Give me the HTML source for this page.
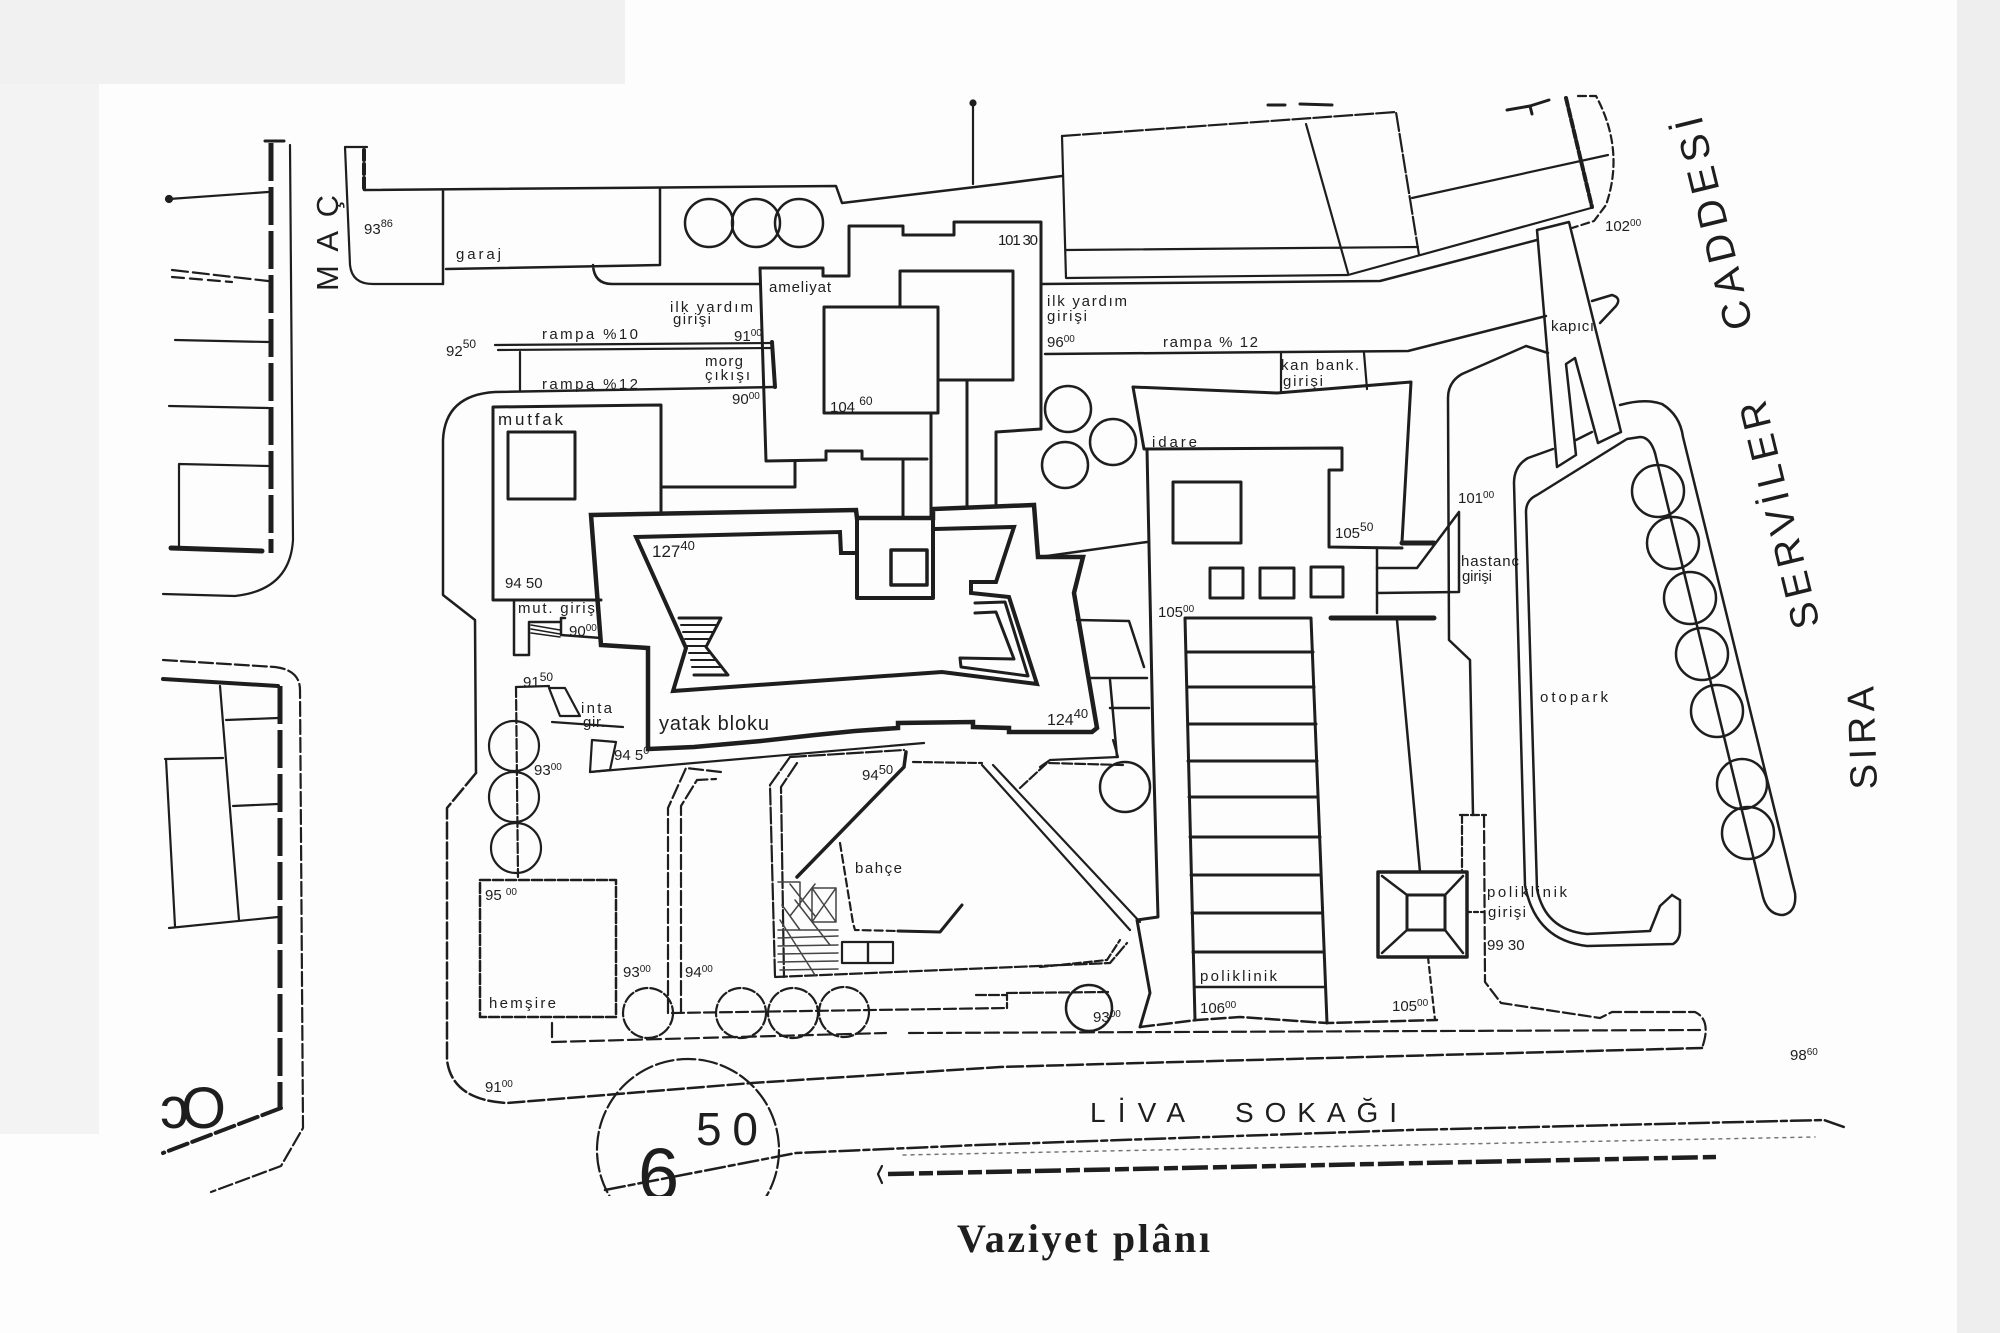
<!DOCTYPE html>
<html><head><meta charset="utf-8"><style>
html,body{margin:0;padding:0;background:#fff;}
svg{display:block}
text{font-family:"Liberation Sans",sans-serif;fill:#1e1e1e;stroke:none}
</style></head><body>
<svg width="2000" height="1333" viewBox="0 0 2000 1333" xmlns="http://www.w3.org/2000/svg">
<defs><clipPath id="cc"><rect x="0" y="0" width="2000" height="1196"/></clipPath></defs>
<rect width="2000" height="1333" fill="#fdfdfd"/>
<rect x="0" y="0" width="625" height="84" fill="#f1f1f1"/>
<rect x="0" y="84" width="99" height="1050" fill="#f3f3f3"/>
<rect x="1957" y="0" width="43" height="1333" fill="#eeeeee"/>

<g fill="none" stroke="#1e1e1e" stroke-width="2.2" stroke-linejoin="round" stroke-linecap="round">
<!-- left street MAC -->
<path d="M290,145 L293,540 Q290,590 235,596 L163,594"/>
<path d="M169,199 L268,192"/>
<path d="M172,270 L268,281" stroke-dasharray="16 5"/>
<path d="M172,277 L232,282" stroke-dasharray="12 6"/>
<path d="M175,340 L268,342 M169,406 L268,408 M179,464 L268,466 M179,464 L179,549"/>
<path d="M163,660 L275,667 Q300,670 300,690 L303,1128 L281,1166 L211,1192" stroke-dasharray="14 4"/>
<path d="M220,686 L239,920 M226,720 L278,718 M165,759 L223,758 M233,806 L278,804 M169,928 L278,917 M166,759 L175,926"/>
<path d="M271,143 L271,553" stroke-width="5" stroke-dasharray="38 6" stroke-linecap="butt"/>
<path d="M265,141 L284,141" stroke-width="3"/>
<path d="M171,548 L262,551" stroke-width="5"/>
<path d="M163,679 L278,686" stroke-width="4"/>
<path d="M280,686 L280,1108" stroke-width="5" stroke-dasharray="38 6" stroke-linecap="butt"/>
<path d="M281,1108 L163,1153" stroke-width="4" stroke-dasharray="20 5"/>
<circle cx="169" cy="199" r="3" fill="#1e1e1e"/>

<!-- garaj -->
<path d="M345,147 L367,147 M345,147 L350,265 Q352,284 373,284 L443,284"/>
<path d="M364,150 L364,190" stroke-width="4" stroke-dasharray="10 4"/>
<path d="M364,190 L836,186 L842,203 L1000,184 L1062,176" stroke-width="2.5"/>
<path d="M443,190 L443,284 M446,269 L660,265 L660,188 M593,265 Q594,284 612,284 L760,284" stroke-width="2.5"/>
<circle cx="709" cy="223" r="24" stroke-width="2.5"/><circle cx="756" cy="223" r="24" stroke-width="2.5"/><circle cx="799" cy="223" r="24" stroke-width="2.5"/>
<path d="M973,103 L973,184"/><circle cx="973" cy="103" r="2.5" fill="#1e1e1e"/>

<!-- ameliyat -->
<path d="M760,268 L823,268 L823,276 L849,276 L849,226 L903,226 L903,235 L954,235 L954,222 L1041,222 L1041,429 L996,432 L996,507" stroke-width="3"/>
<path d="M760,268 L766,461 L826,460 L826,451 L862,451 L862,459 L927,459" stroke-width="3"/>
<rect x="824" y="307" width="114" height="106" stroke-width="3"/>
<path d="M900,307 L900,271 L1013,271 L1013,380 L938,380" stroke-width="3"/>
<path d="M903,461 L903,518 M931,413 L931,518 M967,380 L967,508 M661,487 L795,487 L795,462" stroke-width="3"/>

<!-- ramps -->
<path d="M495,345 L772,343 M498,350 L772,348 M520,352 L520,391"/>
<path d="M772,342 L775,387" stroke-width="4"/>
<path d="M775,387 L495,392 Q445,395 443,440 L443,595 L475,620 L476,773" stroke-width="2.5"/>
<path d="M476,773 L447,808 L447,1060 Q452,1100 507,1103 L752,1083 L1000,1067 L1140,1063 L1702,1048" stroke-dasharray="16 4" stroke-width="2.5"/>

<!-- mutfak -->
<path d="M661,512 L661,405 L493,407 L493,600 L601,600" stroke-width="3"/>
<rect x="508" y="432" width="67" height="67" stroke-width="3"/>
<path d="M514,600 L514,655 L529,655 L529,622 L560,622" stroke-width="2.5"/>
<path d="M531,625 L560,630 M531,629 L560,634 M531,633 L560,637" stroke-width="1.5"/>
<path d="M565,618 L561,618 L561,635 L601,638" stroke-width="2.5"/>

<!-- main building (yatak bloku) -->
<path d="M591,515 L856,510 L857,518 L933,518 L933,509 L1034,505 L1038,557 L1083,557 L1074,593 L1097,728 L1092,732 L1009,732 L1009,728 L973,727 L973,722 L898,723 L898,728 L855,731 L815,735 L761,741 L694,747 L648,749 L648,648 L601,645 Z" stroke-width="4.5" stroke-linejoin="miter"/>
<path d="M857,518 L857,598 L933,598 L933,518" stroke-width="4"/>
<rect x="891" y="550" width="36" height="35" stroke-width="3.5"/>
<path d="M857,553 L841,553 L840,532 L636,537 L686,648 L673,691 L942,672 L1037,684 L1009,597 L971,593 L971,582 L996,582 L1014,527 L935,529" stroke-width="4" stroke-linejoin="miter"/>
<path d="M975,603 L1005,602 L1028,676 L961,667 L960,658 L1014,659 L996,612 L975,613" stroke-width="3"/>
<path d="M679,618 L721,618 L706,647 L728,675 L694,675" stroke-width="3"/>
<path d="M681,625 L717,625 M683,632 L714,632 M685,639 L710,639 M687,646 L706,646 M689,653 L711,653 M691,660 L716,660 M692,667 L721,667" stroke-width="2"/>

<!-- below building -->
<path d="M592,740 L616,742 L610,770 L590,772 Z"/>
<path d="M590,772 L924,743"/>
<path d="M668,1013 L668,808 L686,768 L721,772 M681,1013 L681,806 L697,780 L716,779" stroke-dasharray="14 4"/>
<path d="M790,757 L770,785 L775,977 M797,763 L781,787 L784,977 M790,757 L904,750" stroke-dasharray="16 3"/>

<!-- bahce -->
<path d="M797,877 L904,767 L906,752" stroke-width="3.5"/>
<path d="M913,762 L982,763" stroke-dasharray="8 3"/>
<path d="M982,765 L1130,930 M993,765 L1140,922"/>
<path d="M840,843 L853,923 L855,930 L898,931" stroke-dasharray="8 4"/>
<path d="M898,931 L940,932 L962,905" stroke-width="3"/>
<path d="M775,977 L1110,963 L1127,943" stroke-dasharray="12 3"/>
<path d="M1020,788 L1047,763 L1123,765" stroke-dasharray="10 3"/>
<circle cx="1125" cy="787" r="25" stroke-width="2.5"/>
<path d="M1040,767 L1050,760 L1118,757 L1113,740"/>
<path d="M1040,967 L1107,960 L1120,940" stroke-dasharray="8 3"/>
<rect x="842" y="942" width="26" height="21"/><rect x="868" y="942" width="25" height="21"/>
<g stroke="#444" stroke-width="1.5">
<path d="M778,882 L800,882 L800,905 M790,884 L815,916 M815,884 L790,916 M812,888 L836,888 L836,922 L812,922 Z M812,888 L836,922 M836,888 L812,922 M778,930 L838,930 M778,938 L838,936 M778,946 L838,945 M778,954 L838,953 M778,962 L838,961 M780,970 L838,969 M782,905 L800,930 M795,900 L830,945 M780,920 L815,975"/>
</g>

<!-- hemsire & trees -->
<rect x="480" y="880" width="136" height="137" stroke-dasharray="10 3" stroke-width="2.5"/>
<path d="M516,687 L518,877" stroke-dasharray="10 3"/>
<circle cx="514" cy="746" r="25"/><circle cx="514" cy="797" r="25"/><circle cx="516" cy="848" r="25"/>
<path d="M516,687 L549,686 M549,688 L565,688 L580,716 L560,716 Z M552,722 L623,727"/>
<g stroke-dasharray="12 3">
<circle cx="648" cy="1013" r="25"/><circle cx="741" cy="1013" r="25"/><circle cx="793" cy="1013" r="25"/><circle cx="844" cy="1012" r="25"/>
</g>
<path d="M672,1013 L1007,1008" stroke-dasharray="12 4"/>
<path d="M976,995 L1007,995 L1007,1008 M1007,993 L1110,992" stroke-dasharray="10 3"/>
<path d="M552,1023 L552,1042 L886,1033 M909,1033 L1700,1030" stroke-dasharray="14 5"/>
<circle cx="1089" cy="1008" r="23" stroke-width="2.5"/>

<!-- idare -->
<path d="M1133,387 L1277,393 L1411,382 L1402,542" stroke-width="3"/>
<path d="M1133,387 L1144,449 L1342,448 L1342,470 L1329,470 L1329,547 L1402,548" stroke-width="3"/>
<path d="M1147,449 L1153,740 L1158,917 L1137,920 L1150,993 L1140,1027" stroke-width="3"/>
<rect x="1173" y="482" width="68" height="61" stroke-width="3"/>
<rect x="1210" y="568" width="33" height="30" stroke-width="3"/>
<rect x="1260" y="568" width="34" height="30" stroke-width="3"/>
<rect x="1311" y="567" width="32" height="30" stroke-width="3"/>
<path d="M1185,618 L1311,618 M1185,618 L1195,1020 M1311,618 L1327,1023" stroke-width="3"/>
<path d="M1186,652 L1313,652 M1187,687 L1314,687 M1188,724 L1316,724 M1188,761 L1317,761 M1189,797 L1318,797 M1190,837 L1320,837 M1191,875 L1321,875 M1192,913 L1322,913 M1193,952 L1324,952" stroke-width="3"/>
<path d="M1196,987 L1325,987" stroke-width="2.5"/>
<path d="M1377,548 L1377,613 M1397,620 L1420,872" stroke-width="2.5"/>
<path d="M1402,543 L1434,543 M1331,618 L1434,618" stroke-width="5"/>
<path d="M1377,568 L1417,568 L1459,512 L1459,592 L1377,593" stroke-width="2.5"/>
<path d="M1140,1027 L1197,1020 L1240,1017 L1327,1023 L1437,1020" stroke-dasharray="14 4" stroke-width="2.5"/>
<rect x="1378" y="872" width="89" height="85" stroke-width="3.5"/>
<rect x="1407" y="895" width="38" height="35" stroke-width="3"/>
<path d="M1382,876 L1407,895 M1463,876 L1445,895 M1382,953 L1407,930 M1463,953 L1445,930" stroke-width="2.5"/>
<path d="M1428,957 L1435,1020" stroke-dasharray="6 4"/>
<path d="M1467,912 L1484,912" stroke-dasharray="4 3"/>
<path d="M1040,557 L1147,542 M1077,620 L1129,621 L1144,667 M1090,678 L1147,678 M1110,680 L1117,757 M1110,708 L1149,708" stroke-width="2.5"/>
<circle cx="1068" cy="409" r="23" stroke-width="2.5"/><circle cx="1113" cy="442" r="23" stroke-width="2.5"/><circle cx="1065" cy="465" r="23" stroke-width="2.5"/>

<!-- top building -->
<path d="M1062,136 L1396,112 L1419,255" stroke-dasharray="18 3"/>
<path d="M1062,136 L1066,278 L1348,275 L1591,208"/>
<path d="M1066,250 L1418,247 M1306,124 L1348,273 M1412,198 L1608,155"/>
<path d="M1566,98 L1592,207" stroke-width="4" stroke-dasharray="8 3"/>
<path d="M1578,96 L1596,96 Q1625,150 1606,205 L1594,221 L1572,228" stroke-dasharray="8 4"/>
<path d="M1268,105 L1285,105 M1300,104 L1332,105 M1507,110 L1530,106 L1549,100 M1530,106 L1532,114" stroke-width="3"/>
<path d="M1041,284 L1380,281 L1537,240" stroke-width="2.5"/>
<path d="M1045,354 L1408,351 L1546,316" stroke-width="2.5"/>
<path d="M1281,353 L1281,391 M1364,353 L1367,389"/>
<path d="M1592,301 L1612,295 Q1622,298 1616,306 L1600,323" stroke-width="2.5"/>
<path d="M1537,230 L1569,222 L1621,432 L1598,443 L1575,358 L1566,364 L1576,455 L1557,467 Z M1576,440 L1592,432" stroke-width="2.5"/>

<!-- right road / otopark -->
<path d="M1548,353 L1526,346 L1462,374 Q1448,382 1448,398 L1449,640 L1470,660 L1473,815" stroke-width="2.5"/>
<path d="M1460,815 L1486,815 M1462,815 L1462,872" stroke-dasharray="8 3"/>
<path d="M1484,815 L1485,982 L1501,1003 L1600,1018 L1612,1012 L1695,1012 Q1712,1020 1702,1048" stroke-dasharray="12 4"/>
<path d="M1553,449 L1528,458 Q1514,466 1514,483 L1525,885 Q1535,940 1587,946 L1673,944 Q1680,940 1680,930 L1680,900 L1672,895" stroke-width="2.5"/>
<path d="M1655,453 Q1650,437 1640,437 L1627,439 L1537,495 Q1526,500 1526,512 L1537,889 Q1545,930 1587,934 L1650,931 L1660,906 L1672,895" stroke-width="2.5"/>
<path d="M1620,405 Q1645,398 1662,404 Q1680,415 1683,437 L1795,893 Q1797,912 1783,915 Q1768,915 1763,897 L1655,453" stroke-width="2.5"/>
<g stroke-width="2.5">
<circle cx="1658" cy="491" r="26"/><circle cx="1673" cy="543" r="26"/><circle cx="1690" cy="598" r="26"/><circle cx="1702" cy="654" r="26"/><circle cx="1717" cy="711" r="26"/><circle cx="1742" cy="784" r="25"/><circle cx="1748" cy="833" r="26"/>
</g>

<!-- street -->
<path d="M605,1190 L796,1153 L978,1145 L1409,1130 L1824,1120 L1844,1127" stroke-dasharray="20 4 6 4" stroke-width="2.5"/>
<path d="M903,1155 L1815,1137" stroke="#777" stroke-dasharray="3 5" stroke-width="1.5"/>
<path d="M888,1174 L1716,1157" stroke-width="4.5" stroke-dasharray="26 5 14 4" stroke-linecap="butt"/>
<path d="M882,1166 L878,1174 L882,1183"/>
<circle cx="688" cy="1150" r="91" clip-path="url(#cc)" stroke-dasharray="18 4"/>
</g>

<!-- labels -->
<g font-size="15">
<text x="364" y="234">93<tspan dy="-7" font-size="11">86</tspan></text>
<text x="456" y="259" textLength="45">garaj</text>
<text x="446" y="356">92<tspan dy="-8" font-size="12">50</tspan></text>
<text x="542" y="339" textLength="96">rampa %10</text>
<text x="670" y="312" textLength="83">ilk yardım</text>
<text x="673" y="324" textLength="38">girişi</text>
<text x="734" y="341">91<tspan dy="-5" font-size="10">00</tspan></text>
<text x="705" y="366" textLength="38">morg</text>
<text x="705" y="380" textLength="45">çıkışı</text>
<text x="542" y="389" textLength="96">rampa %12</text>
<text x="732" y="404">90<tspan dy="-5" font-size="10">00</tspan></text>
<text x="769" y="292" textLength="62">ameliyat</text>
<text x="830" y="412">104 <tspan dy="-7" font-size="12">60</tspan></text>
<text x="998" y="245" textLength="40">101 30</text>
<text x="1047" y="306" textLength="80">ilk yardım</text>
<text x="1047" y="321" textLength="40">girişi</text>
<text x="1047" y="347">96<tspan dy="-5" font-size="10">00</tspan></text>
<text x="1163" y="347" textLength="95">rampa % 12</text>
<text x="1281" y="370" textLength="78">kan bank.</text>
<text x="1283" y="386" textLength="40">girişi</text>
<text x="1551" y="331" textLength="43">kapıcı</text>
<text x="1605" y="231">102<tspan dy="-5" font-size="10">00</tspan></text>
<text x="1152" y="447" textLength="45">idare</text>
<text x="1335" y="538">105<tspan dy="-7" font-size="12">50</tspan></text>
<text x="1458" y="503">101<tspan dy="-5" font-size="10">00</tspan></text>
<text x="1461" y="566" textLength="58">hastanc</text>
<text x="1462" y="581" textLength="30">girişi</text>
<text x="1158" y="617">105<tspan dy="-5" font-size="10">00</tspan></text>
<text x="498" y="425" font-size="17" textLength="65">mutfak</text>
<text x="505" y="588">94 <tspan font-size="15">50</tspan></text>
<text x="518" y="613" textLength="82">mut. girişi</text>
<text x="569" y="636">90<tspan dy="-5" font-size="10">00</tspan></text>
<text x="652" y="557" font-size="17">127<tspan dy="-7" font-size="13">40</tspan></text>
<text x="1047" y="725" font-size="16">124<tspan dy="-7" font-size="13">40</tspan></text>
<text x="659" y="730" font-size="20" textLength="110">yatak bloku</text>
<text x="523" y="687">91<tspan dy="-6" font-size="12">50</tspan></text>
<text x="581" y="713" textLength="31">inta</text>
<text x="583" y="727" textLength="22">gir.</text>
<text x="614" y="760">94 5<tspan dy="-6" font-size="11">0</tspan></text>
<text x="534" y="775">93<tspan dy="-5" font-size="10">00</tspan></text>
<text x="862" y="780">94<tspan dy="-6" font-size="13">50</tspan></text>
<text x="855" y="873" textLength="47" fill="#333">bahçe</text>
<text x="485" y="900" fill="#333">95 <tspan dy="-5" font-size="10">00</tspan></text>
<text x="489" y="1008" textLength="67" fill="#333">hemşire</text>
<text x="623" y="977" fill="#333">93<tspan dy="-5" font-size="10">00</tspan></text>
<text x="685" y="977" fill="#333">94<tspan dy="-5" font-size="10">00</tspan></text>
<text x="485" y="1092" fill="#333">91<tspan dy="-5" font-size="10">00</tspan></text>
<text x="1093" y="1022">93<tspan dy="-5" font-size="10">00</tspan></text>
<text x="1200" y="981" textLength="77">poliklinik</text>
<text x="1200" y="1013">106<tspan dy="-5" font-size="10">00</tspan></text>
<text x="1392" y="1011">105<tspan dy="-5" font-size="10">00</tspan></text>
<text x="1487" y="897" textLength="80">poliklinik</text>
<text x="1488" y="917" textLength="38">girişi</text>
<text x="1487" y="950">99 30</text>
<text x="1540" y="702" textLength="68">otopark</text>
<text x="1790" y="1060" fill="#333">98<tspan dy="-5" font-size="10">60</tspan></text>
</g>

<!-- big labels -->
<text transform="translate(338,291) rotate(-90)" font-size="31" textLength="96" lengthAdjust="spacing">MAÇ</text>
<text transform="translate(1753,326) rotate(-103.8)" font-size="40" textLength="218" lengthAdjust="spacing">CADDESİ</text>
<text transform="translate(1820,625) rotate(-103.7)" font-size="39" textLength="233" lengthAdjust="spacing">SERVİLER</text>
<text transform="translate(1877,789) rotate(-92)" font-size="38" textLength="103" lengthAdjust="spacing">SIRA</text>
<text x="1090" y="1122" font-size="28" textLength="95" lengthAdjust="spacing">LİVA</text>
<text x="1235" y="1122" font-size="28" textLength="162" lengthAdjust="spacing">SOKAĞI</text>
<text x="696" y="1145" font-size="46" textLength="62">50</text>
<text x="638" y="1200" font-size="74" clip-path="url(#cc)">6</text>
<text x="160" y="1128" font-size="58" textLength="66">ɔO</text>
<text x="957" y="1252" font-size="40" font-weight="bold" textLength="253" lengthAdjust="spacing" style="font-family:'Liberation Serif',serif">Vaziyet plânı</text>
</svg>
</body></html>
